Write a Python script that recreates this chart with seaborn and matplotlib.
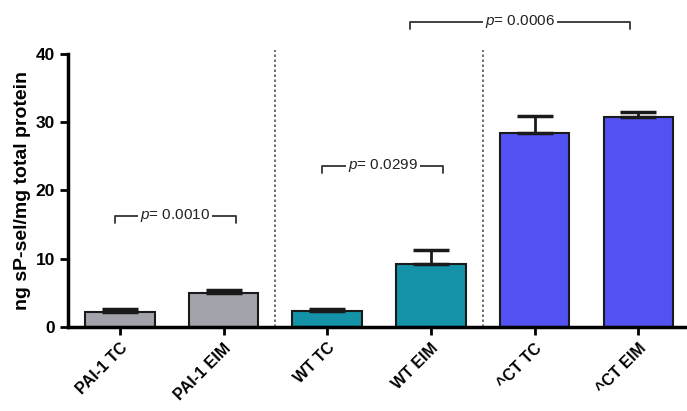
import numpy as np
import pandas as pd
import matplotlib
matplotlib.use("Agg")
import matplotlib.pyplot as plt
import seaborn as sns

groups = ["PAI-1 TC", "PAI-1 EIM", "WT TC", "WT EIM", "^CT TC", "^CT EIM"]
means = [2.2, 5.0, 2.3, 9.2, 28.4, 30.8]
errors = [0.4, 0.5, 0.3, 2.1, 2.5, 0.7]
colors = ["#a3a3ab", "#a3a3ab", "#1493a8", "#1493a8", "#5252f2", "#5252f2"]
p_labels = ["0.0010", "0.0299", "0.0006"]
p_pairs = [(0, 1), (2, 3), (4, 5)]
p_heights = [16.3, 23.6, 44.7]

sns.set_style("ticks")
plt.rcParams["font.family"] = ["Liberation Sans", "DejaVu Sans"]
plt.rcParams["mathtext.fontset"] = "custom"
plt.rcParams["mathtext.it"] = "Liberation Sans:italic"
plt.rcParams["text.color"] = "black"
plt.rcParams["axes.labelcolor"] = "black"
plt.rcParams["xtick.color"] = "black"
plt.rcParams["ytick.color"] = "black"
plt.rcParams["axes.edgecolor"] = "black"

df = pd.DataFrame({"group": groups, "mean": means})

fig = plt.figure(figsize=(6.87, 4.11), dpi=100)
ax = fig.add_axes([0.099, 0.204, 0.901, 0.665])

sns.barplot(data=df, x="group", y="mean", hue="group", palette=colors,
            legend=False, width=0.67, edgecolor="#1a1a1a", linewidth=1.5,
            saturation=1, ax=ax)
ax.errorbar(range(len(groups)), means, yerr=[np.zeros(len(errors)), errors],
            fmt="none", ecolor="#1a1a1a", elinewidth=2, capsize=13, capthick=2.5)

ax.set_xlim(-0.5, 5.47)
ax.set_ylim(0, 40)
ax.set_yticks([0, 10, 20, 30, 40])
ax.set_xlabel("")
ax.set_ylabel("ng sP-sel/mg total protein", fontsize=14, fontweight="bold", labelpad=3)
for lab in ax.get_yticklabels():
    lab.set_fontweight("bold")
    lab.set_fontsize(12.5)
ax.set_xticks(range(len(groups)))
ax.set_xticklabels(groups, rotation=45, ha="right", rotation_mode="anchor",
                   fontsize=11.5, fontweight="bold")
ax.tick_params(axis="both", direction="out", length=6, width=2)
sns.despine(ax=ax)
ax.spines["left"].set_linewidth(2.5)
ax.spines["bottom"].set_linewidth(2.5)

# dotted group separators
for xs in [1.5, 3.5]:
    ax.plot([xs, xs], [0, 40.6], ls=(0, (1.5, 1.5)), color="#555555", lw=1.2,
            clip_on=False)

# significance brackets
for (a, b), h, lab in zip(p_pairs, p_heights, p_labels):
    xa, xb = a - 0.05, b + 0.12
    if lab == "0.0006":
        xa, xb = a - 1.2, b - 0.08
    drop = 1.1
    mid = (xa + xb) / 2
    ax.text(mid, h, f"$\\mathit{{p}}$= {lab}", ha="center", va="center",
            fontsize=11, color="#222222", clip_on=False,
            bbox=dict(facecolor="white", edgecolor="none", pad=1.5))
    ax.plot([xa, xa, xb, xb], [h - drop, h, h, h - drop], color="#333333",
            lw=1.3, clip_on=False, zorder=1)

fig.savefig("out.png", dpi=100)
